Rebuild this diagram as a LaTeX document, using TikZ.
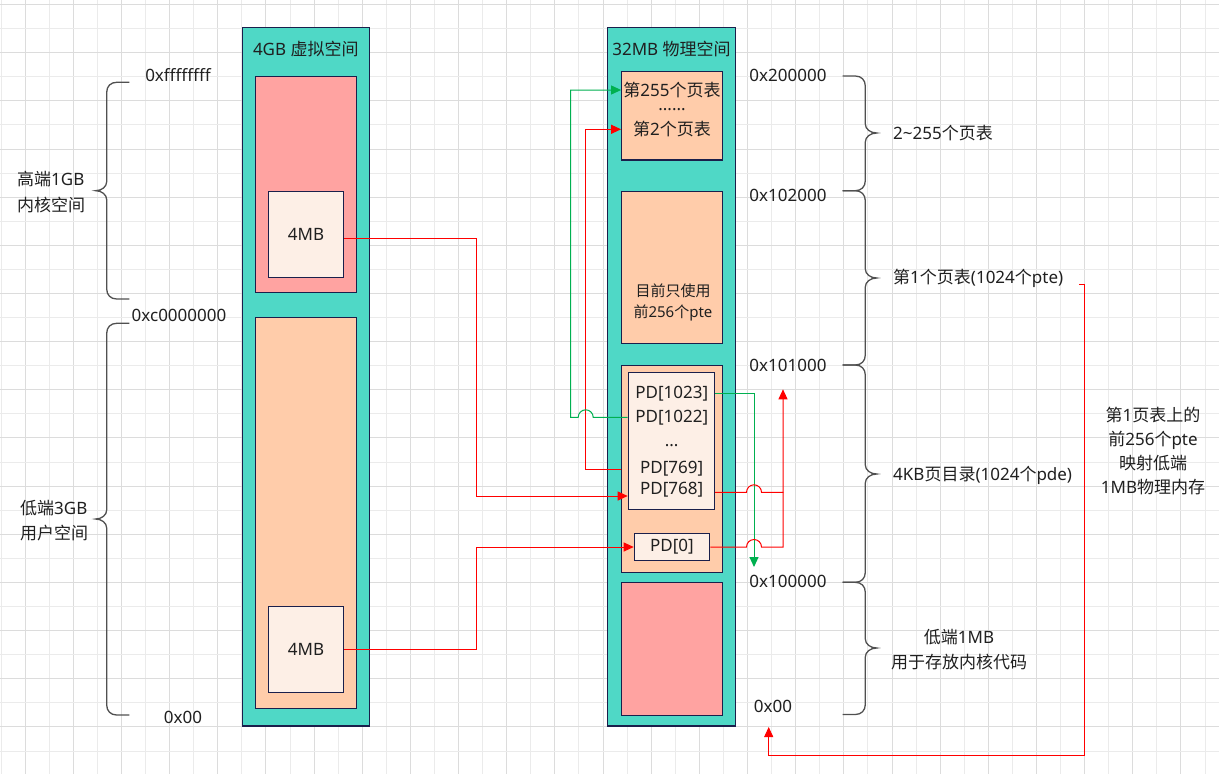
\documentclass[tikz,border=0pt]{standalone}
\usepackage{fontspec}
\setmainfont{Noto Sans}
\newfontfamily\cjk{Noto Sans CJK SC}
\usetikzlibrary{arrows.meta}
\newcommand\zh[1]{{\cjk #1}}
\definecolor{tealc}{HTML}{4FD8C6}
\definecolor{redc}{HTML}{FFA3A1}
\definecolor{peach}{HTML}{FFCCAA}
\definecolor{cream}{HTML}{FDEFE6}
\definecolor{navy}{HTML}{1A1F4B}
\definecolor{greenc}{HTML}{00B050}
\definecolor{gridd}{HTML}{DCDCDC}
\definecolor{gridl}{HTML}{EBEBEB}
\definecolor{txt}{HTML}{202020}
\definecolor{bracec}{HTML}{505050}
\newcommand\boxat[6]{\node[#1, minimum width={#4-#2}, minimum height={#5-#3}] (#6) at ({(#2+#4)/2},{(#3+#5)/2}) {};}
\newcommand\mybrace[7]{%
 \draw[brace] (#1,#4) -- ({#2+#7*10},#4) .. controls ({#2+#7*4},#4) and (#2,{#4+4}) .. (#2,{#4+10})
 -- (#2,{#5-9}) .. controls (#2,{#5-4}) and ({#2-#7*5},#5) .. (#3,#5)
 .. controls ({#2-#7*5},#5) and (#2,{#5+4}) .. (#2,{#5+9})
 -- (#2,{#6-10}) .. controls (#2,{#6-4}) and ({#2+#7*4},#6) .. ({#2+#7*10},#6) -- (#1,#6);}
\tikzset{
 shape box/.style={draw=navy, line width=1.2pt, inner sep=0pt, rectangle},
 tealbox/.style={shape box, fill=tealc},
 redbox/.style={shape box, fill=redc},
 peachbox/.style={shape box, fill=peach},
 creambox/.style={shape box, fill=cream},
 lbl/.style={inner sep=0pt, text=txt},
 brace/.style={draw=bracec, line width=1.3pt},
 rl/.style={draw=red, line width=1pt},
 gl/.style={draw=greenc, line width=1pt},
 rarr/.style={-{Triangle[length=10pt,width=9pt]}, rl},
 garr/.style={-{Triangle[length=10pt,width=9pt]}, gl},
}
\begin{document}
\begin{tikzpicture}[x=1pt,y=-1pt,font=\fontsize{17}{20}\selectfont]
\useasboundingbox (0,0) rectangle (1219,774);
\fill[white] (0,0) rectangle (1219,774);
% grid
\foreach \k in {0,...,50}{\ifodd\k\def\gc{gridd}\else\def\gc{gridl}\fi
  \draw[\gc, line width=0.9pt] ({1+24.08*\k},0) -- ({1+24.08*\k},774);}
\foreach \k in {0,...,32}{\ifodd\k\def\gc{gridl}\else\def\gc{gridd}\fi
  \draw[\gc, line width=0.9pt] (0,{4.5+24.08*\k}) -- (1219,{4.5+24.08*\k});}

% virtual space column
\boxat{tealbox}{242.3}{27.3}{369.3}{726}{vs}
\boxat{redbox}{255.3}{76.7}{356.7}{292.3}{vk}
\boxat{creambox}{268.3}{191.3}{343.7}{277.3}{vu}
\boxat{peachbox}{255.3}{317.3}{356.7}{708.3}{vuser}
\boxat{creambox}{268.3}{606.3}{343.7}{692.3}{vl}
\node[lbl] (vtitle) at (305.8,49) {4GB \zh{虚拟空间}};
\node[lbl] (vut) at (306,234.3) {4MB};
\node[lbl] (vlt) at (306,649.3) {4MB};

% physical space column
\boxat{tealbox}{607.7}{27.3}{735.3}{726}{ps}
\boxat{peachbox}{621.7}{71.7}{722.7}{160}{tp}
\boxat{peachbox}{621.7}{191.7}{722.7}{343.3}{pt1}
\boxat{peachbox}{621.7}{365.7}{722.7}{572.3}{pdo}
\boxat{creambox}{628.3}{372.3}{714.3}{509.3}{pd}
\boxat{creambox}{634.3}{533.3}{709.7}{560.7}{pd0}
\boxat{redbox}{621.3}{582.3}{722.7}{715.3}{low}
\node[lbl] (ptitle) at (671.5,49) {32MB \zh{物理空间}};
\node[lbl] (t255) at (672,90) {\zh{第}255\zh{个页表}};
\node[lbl,anchor=base] (tdots) at (672,110.5) {......};
\node[lbl] (t2) at (672,129) {\zh{第}2\zh{个页表}};
\node[lbl,font=\fontsize{15}{18}\selectfont] (p1a) at (673,291) {\zh{目前只使用}};
\node[lbl,font=\fontsize{15}{18}\selectfont] (p1b) at (673,313.3) {\zh{前}256\zh{个}pte};
\node[lbl] (pd1023) at (671.7,393.3) {PD[1023]};
\node[lbl] (pd1022) at (671.7,417.3) {PD[1022]};
\node[lbl,anchor=base] (pddots) at (671.7,446.5) {...};
\node[lbl] (pd769) at (671.7,468.3) {PD[769]};
\node[lbl] (pd768) at (671.7,490) {PD[768]};
\node[lbl] (pd0t) at (672,547) {PD[0]};

% left labels and braces
\node[lbl] (vtop) at (178,75) {0xffffffff};
\node[lbl] (vmid) at (179,315) {0xc0000000};
\node[lbl] (vbot) at (183,717) {0x00};
\node[lbl,align=left,anchor=west,font=\fontsize{17}{26}\selectfont] (kern) at (17,192) {\zh{高端}1GB\\\zh{内核空间}};
\node[lbl,align=left,anchor=west,font=\fontsize{17}{25}\selectfont] (user) at (20,520.5) {\zh{低端}3GB\\\zh{用户空间}};
\mybrace{129.3}{106.7}{95.7}{82.3}{190.7}{299}{1}
\mybrace{129.3}{106.7}{95.7}{323.3}{519}{715}{1}

% right labels and braces
\node[lbl] (a200) at (788,75) {0x200000};
\node[lbl] (a102) at (788,195.7) {0x102000};
\node[lbl] (a101) at (788,365) {0x101000};
\node[lbl] (a100) at (788,581.7) {0x100000};
\node[lbl] (a0) at (773,706) {0x00};
\mybrace{842.7}{865.3}{876.7}{76}{133}{190.7}{(-1)}
\mybrace{842.7}{865.3}{876.7}{190.7}{278}{365}{(-1)}
\mybrace{842.7}{865.3}{876.7}{365}{474}{582.3}{(-1)}
\mybrace{842.7}{865.3}{876.7}{582.3}{648}{714.5}{(-1)}
\node[lbl,anchor=west] (b1) at (893,133) {2\textasciitilde255\zh{个页表}};
\node[lbl,anchor=west] (b2) at (893,278) {\zh{第}1\zh{个页表}(1024\zh{个}pte)};
\node[lbl,anchor=west] (b3) at (893,475) {4KB\zh{页目录}(1024\zh{个}pde)};
\node[lbl,align=center,font=\fontsize{17}{25}\selectfont] (b4) at (959,649.5) {\zh{低端}1MB\\\zh{用于存放内核代码}};
\node[lbl,align=center,font=\fontsize{17}{24}\selectfont] (note) at (1153,451) {\zh{第}1\zh{页表上的}\\\zh{前}256\zh{个}pte\\\zh{映射低端}\\1MB\zh{物理内存}};

% connectors
\draw[rarr] (vu.east |- 0,238.3) -- (476,238.3) -- (476,496) -- (pd.west |- 0,496);
\draw[rarr] (vl.east) -- (476,649.3) -- (476,547) -- (pd0.west);
\coordinate (gend) at (754,567);
\draw[garr] (pd.east |- 0,393.3) -- (754,393.3) -- (gend);
\coordinate (rjoin) at (783,492.3);
\coordinate (rend) at (783,389.3);
\draw[rarr] (pd.east |- 0,492.3) -- (746.5,492.3) arc[start angle=180,end angle=360,radius=7.5] -- (rjoin) -- (rend);
\draw[rl] (pd0.east) -- (746.5,547) arc[start angle=180,end angle=360,radius=7.5] -- (783,547) -- (rjoin);
\draw[rarr] (pdo.west |- 0,469) -- (585.7,469) -- (585.7,129.3) -- (tp.west |- 0,129.3);
\draw[garr] (pd.west |- 0,417.3) -- (593.2,417.3) arc[start angle=0,end angle=-180,radius=7.5] -- (570.7,417.3) -- (570.7,90) -- (tp.west |- 0,90);
\coordinate (s8) at (1079.3,284.3);
\coordinate (e8) at (768.7,727);
\draw[rarr] (s8) -- (1084.3,284.3) -- (1084.3,755) -- (768.7,755) -- (e8);
\end{tikzpicture}
\end{document}
